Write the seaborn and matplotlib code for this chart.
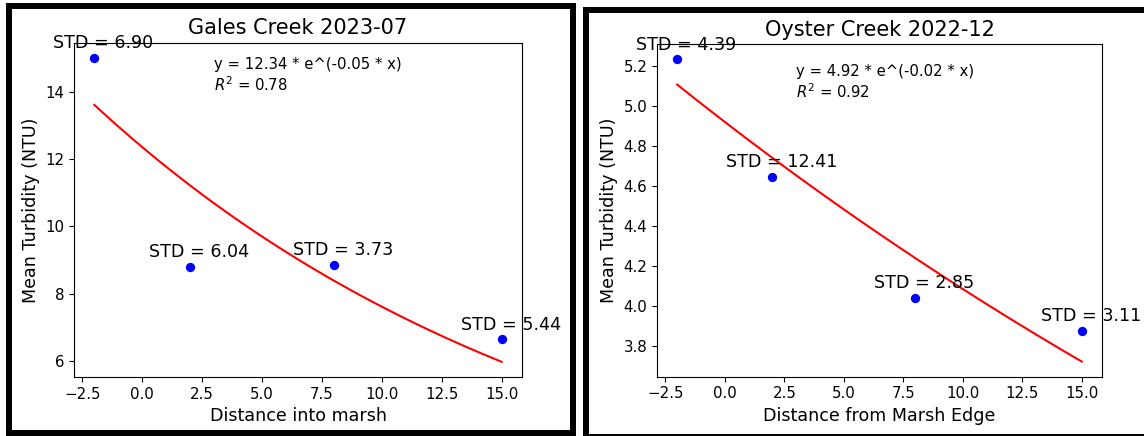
import numpy as np
import pandas as pd
import matplotlib
matplotlib.use("Agg")
import matplotlib.pyplot as plt
import seaborn as sns
from matplotlib.patches import Rectangle

# --- data ---
distance = [-2, 2, 8, 15]

gales_turbidity = [15.00, 8.79, 8.86, 6.65]
gales_std = [6.90, 6.04, 3.73, 5.44]
gales_fit = (12.35, 0.0484)          # a, b of y = a * exp(-b * x)
gales_eq = "y = 12.34 * e^(-0.05 * x)"
gales_r2 = 0.78

oyster_turbidity = [5.234, 4.647, 4.04, 3.875]
oyster_std = [4.39, 12.41, 2.85, 3.11]
oyster_fit = (4.92, 0.0186)
oyster_eq = "y = 4.92 * e^(-0.02 * x)"
oyster_r2 = 0.92

W, H, DPI = 1144, 436, 100
fig = plt.figure(figsize=(W / DPI, H / DPI), dpi=DPI)


def px_axes(x0, x1, top, bottom):
    return fig.add_axes([x0 / W, (H - bottom) / H, (x1 - x0) / W, (bottom - top) / H])


def panel(ax, y, stds, fit, eq, r2, title, xlabel, eq_y):
    df = pd.DataFrame({"x": distance, "y": y})
    xs = np.linspace(min(distance), max(distance), 100)
    curve = pd.DataFrame({"x": xs, "y": fit[0] * np.exp(-fit[1] * xs)})

    sns.scatterplot(data=df, x="x", y="y", ax=ax, color="blue", s=45,
                    linewidth=0, zorder=3)
    sns.lineplot(data=curve, x="x", y="y", ax=ax, color="red", linewidth=1.5)

    # std labels above each point
    for xi, yi, s in zip(distance, y, stds):
        ax.annotate(f"STD = {s:.2f}", (xi, yi), xytext=(6.5, 4),
                    textcoords="offset points", ha="center", va="bottom",
                    fontsize=12.6, annotation_clip=False)

    ax.text(3, eq_y, f"{eq}\n$R^2$ = {r2:.2f}", fontsize=10.7, va="top")

    ax.set_title(title, fontsize=15)
    ax.set_xlabel(xlabel, fontsize=12.6)
    ax.set_ylabel("Mean Turbidity (NTU)", fontsize=12.6)
    ax.tick_params(labelsize=10.8)


ax1 = px_axes(74, 522, 42.7, 377)
panel(ax1, gales_turbidity, gales_std, gales_fit, gales_eq, gales_r2,
      "Gales Creek 2023-07", "Distance into marsh", 15.02)

ax2 = px_axes(657, 1102, 44, 376.7)
panel(ax2, oyster_turbidity, oyster_std, oyster_fit, oyster_eq, oyster_r2,
      "Oyster Creek 2022-12", "Distance from Marsh Edge", 5.21)

# black screenshot frames around each panel
lw = 6 * 72 / DPI
for x0, x1, top, bottom in [(9, 573, 6.5, 433), (586, 1160, 10, 437)]:
    fig.add_artist(Rectangle((x0 / W, (H - bottom) / H), (x1 - x0) / W,
                             (bottom - top) / H, transform=fig.transFigure,
                             fill=False, edgecolor="black", linewidth=lw))

fig.savefig("out.png", dpi=DPI)
